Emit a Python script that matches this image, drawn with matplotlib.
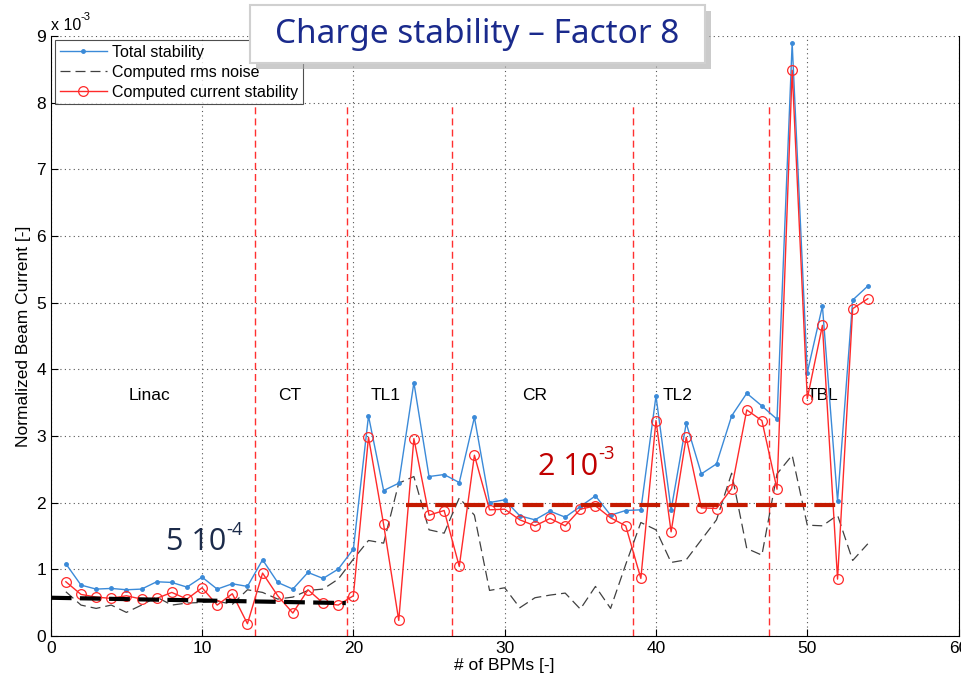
import matplotlib
matplotlib.use("Agg")
import matplotlib.pyplot as plt
from matplotlib.patches import Rectangle

plt.rcParams["font.family"] = ["Liberation Sans", "DejaVu Sans"]

# BPM index and values (in units of 1e-3)
bpm = list(range(1, 55))
total = [1.08, 0.76, 0.70, 0.71, 0.69, 0.70, 0.81, 0.80, 0.73, 0.88,
         0.70, 0.78, 0.74, 1.14, 0.80, 0.70, 0.95, 0.86, 1.00, 1.30,
         3.30, 2.18, 2.29, 3.80, 2.39, 2.42, 2.30, 3.28, 2.00, 2.04,
         1.80, 1.74, 1.87, 1.78, 1.94, 2.10, 1.81, 1.88, 1.89, 3.60,
         1.89, 3.19, 2.43, 2.58, 3.30, 3.64, 3.45, 3.25, 8.90, 3.95,
         4.95, 2.02, 5.04, 5.25]
current = [0.81, 0.62, 0.58, 0.56, 0.60, 0.55, 0.56, 0.65, 0.55, 0.72,
           0.46, 0.63, 0.18, 0.94, 0.60, 0.34, 0.69, 0.49, 0.46, 0.60,
           2.98, 1.67, 0.23, 2.96, 1.81, 1.88, 1.04, 2.71, 1.89, 1.90,
           1.74, 1.65, 1.76, 1.65, 1.90, 1.95, 1.77, 1.65, 0.86, 3.23,
           1.56, 2.98, 1.92, 1.91, 2.21, 3.39, 3.23, 2.20, 8.49, 3.56,
           4.66, 0.85, 4.91, 5.06]
noise = [0.66, 0.46, 0.41, 0.46, 0.35, 0.46, 0.58, 0.46, 0.49, 0.50,
         0.52, 0.47, 0.69, 0.65, 0.55, 0.58, 0.68, 0.70, 0.85, 1.15,
         1.43, 1.39, 2.29, 2.39, 1.59, 1.54, 2.07, 1.81, 0.68, 0.72,
         0.42, 0.57, 0.61, 0.64, 0.40, 0.74, 0.41, 1.07, 1.70, 1.59,
         1.10, 1.14, 1.44, 1.74, 2.44, 1.31, 1.21, 2.43, 2.71, 1.66,
         1.65, 1.81, 1.13, 1.38]

section_edges = [13.5, 19.55, 26.5, 38.5, 47.5]
section_names = ["Linac", "CT", "TL1", "CR", "TL2", "TBL"]
section_x = [6.5, 15.8, 22.1, 32.0, 41.4, 51.0]
section_y = 3.6

linac_level_x = [0, 19.5]
linac_level_y = [0.57, 0.49]
ring_level_x = [23.5, 52.1]
ring_level_y = [1.97, 1.97]

fig = plt.figure(figsize=(9.61, 6.86), dpi=100)
ax = fig.add_axes([0.0528, 0.0733, 0.9447, 0.8738])

ax.plot(bpm, total, color="#3b8ad8", lw=1.0, marker=".", ms=5,
        label="Total stability", zorder=4)
ax.plot(bpm, noise, color="#404040", lw=0.9, dashes=(8, 4),
        label="Computed rms noise", zorder=3)
ax.plot(bpm, current, color="#ff2a2a", lw=1.0, marker="o", ms=7,
        mfc="none", mew=0.9, label="Computed current stability", zorder=5)

for xe in section_edges:
    ax.plot([xe, xe], [0, 8], color="#ff3030", lw=1.0, dashes=(5, 3), zorder=2)

ax.plot(linac_level_x, linac_level_y, color="black", lw=3, dashes=(5, 2), zorder=6)
ax.plot(ring_level_x, ring_level_y, color="#c41a00", lw=3, dashes=(5, 2), zorder=6)

for name, xs in zip(section_names, section_x):
    ax.text(xs, section_y, name, fontsize=12.5, ha="center", va="center")


def with_exponent(x, y, base, expo, size, color, coords):
    t = ax.text(x, y, base, fontsize=size, color=color, ha="left",
                va="baseline", transform=coords,
                family=["Open Sans", "DejaVu Sans"])
    ax.annotate(expo, xy=(1, 0.62), xycoords=t, fontsize=size * 0.6,
                color=color, ha="left", va="bottom",
                family=["Open Sans", "DejaVu Sans"])


with_exponent(7.6, 1.28, "5 10", "-4", 22, "#1c2b4a", ax.transData)
with_exponent(32.2, 2.42, "2 10", "-3", 22, "#c00000", ax.transData)

ax.set_xlim(0, 60)
ax.set_ylim(0, 9)
ax.set_xticks(range(0, 61, 10))
ax.set_yticks(range(0, 10))
ax.tick_params(direction="in", labelsize=12.5, length=5, top=False, right=False)
ax.grid(True, linestyle=(0, (1, 3)), color="#555555", lw=0.8)
ax.spines["top"].set_visible(False)
ax.set_xlabel("# of BPMs [-]", fontsize=12.5, labelpad=2)
ax.set_ylabel("Normalized Beam Current [-]", fontsize=12.5, labelpad=4)

tx = ax.text(0.0, 1.006, "x 10", transform=ax.transAxes, fontsize=11.5,
             ha="left", va="bottom")
ax.annotate("-3", xy=(1, 0.7), xycoords=tx, fontsize=8, ha="left", va="bottom")

leg = ax.legend(loc="upper left", fontsize=11.5, frameon=True, fancybox=False,
                borderaxespad=0.25, handlelength=3.0, labelspacing=0.3,
                borderpad=0.3, handletextpad=0.3)
leg.get_frame().set_edgecolor("#222222")
leg.get_frame().set_linewidth(0.8)

# title box with shadow
fig.patches.append(Rectangle((0.266, 0.900), 0.4735, 0.0845, transform=fig.transFigure,
                             facecolor="#a9a9a9", edgecolor="none", alpha=0.6, zorder=5))
fig.patches.append(Rectangle((0.260, 0.908), 0.4735, 0.0845, transform=fig.transFigure,
                             facecolor="white", edgecolor="#d0d0d0", lw=1.5, zorder=6))
fig.text(0.497, 0.949, "Charge stability \u2013 Factor 8", fontsize=24,
         color="#1a2a8c", ha="center", va="center", zorder=7,
         family=["Noto Sans", "DejaVu Sans"])

fig.savefig("out.png", dpi=100)
